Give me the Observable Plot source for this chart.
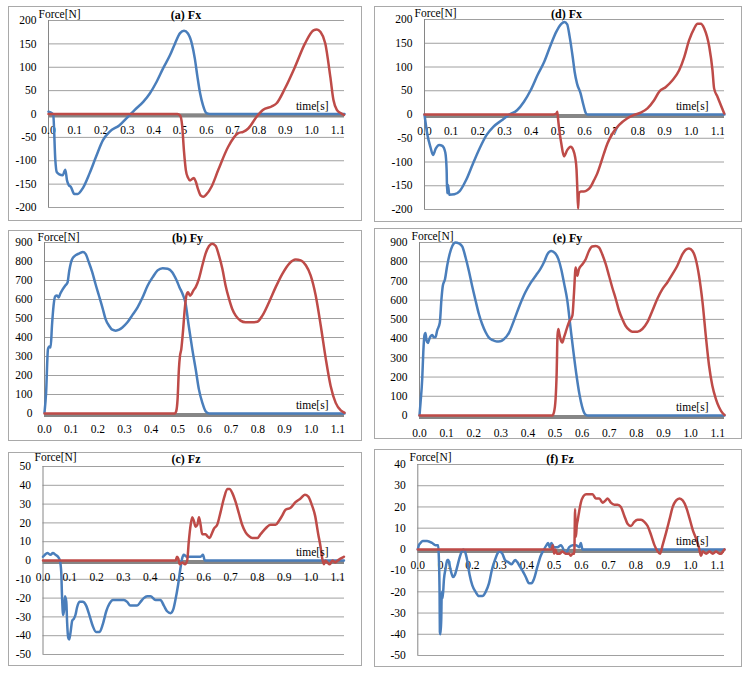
<!DOCTYPE html>
<html>
<head>
<meta charset="utf-8">
<script src="https://cdn.jsdelivr.net/npm/d3@7"></script>
<script src="https://cdn.jsdelivr.net/npm/@observablehq/plot@0.6"></script>
<style>
  html, body { margin: 0; padding: 0; background: #fff; }
  #page { position: relative; width: 750px; height: 675px; overflow: hidden; background: #fff; }
  .box { position: absolute; box-sizing: border-box; border: 1px solid #a9a9a9; }
  .plotwrap { position: absolute; }
  #page svg, #page svg text { font-family: "Liberation Serif", "Times New Roman", serif !important; }
</style>
</head>
<body>
<div id="page"></div>
<script>
// ---------- tick labels ----------
const xTicks = [0, 0.1, 0.2, 0.3, 0.4, 0.5, 0.6, 0.7, 0.8, 0.9, 1.0, 1.1];
const fxTicks = [-200, -150, -100, -50, 0, 50, 100, 150, 200];
const fyTicks = [0, 100, 200, 300, 400, 500, 600, 700, 800, 900];
const fzTicksC = [-50, -40, -30, -20, -10, 0, 10, 20, 30, 40, 50];
const fzTicksF = [-50, -40, -30, -20, -10, 0, 10, 20, 30, 40];

// ---------- series: [time (s), force (N)] ----------
const fxBlueA = [[0,5],[0.009,3],[0.018,-2],[0.026,-99],[0.031,-124],[0.041,-129],[0.054,-131],[0.064,-119],[0.07,-141],[0.077,-152],[0.085,-156],[0.098,-171],[0.111,-171],[0.13,-159],[0.156,-127],[0.181,-91],[0.207,-56],[0.232,-38],[0.27,-24],[0.302,-6],[0.328,9],[0.36,26],[0.385,44],[0.411,69],[0.436,98],[0.462,126],[0.481,151],[0.5,173],[0.515,178],[0.53,172],[0.545,150],[0.556,119],[0.566,80],[0.576,45],[0.587,19],[0.6,2],[0.613,0],[1.125,0]];
const fxRedA = [[0,0],[0.49,0],[0.5,-3],[0.508,-25],[0.515,-80],[0.522,-120],[0.53,-136],[0.538,-142],[0.546,-139],[0.553,-137],[0.56,-145],[0.568,-160],[0.578,-174],[0.588,-177],[0.6,-172],[0.62,-155],[0.645,-120],[0.683,-70],[0.721,-41],[0.74,-38],[0.759,-31],[0.791,-6],[0.816,9],[0.848,16],[0.867,23],[0.899,55],[0.937,101],[0.975,151],[1.007,179],[1.02,181],[1.033,176],[1.052,151],[1.071,80],[1.083,30],[1.096,9],[1.11,2],[1.123,-2]];

const fxBlueD = [[0,0],[0.01,-40],[0.023,-70],[0.032,-85],[0.042,-72],[0.055,-64],[0.067,-66],[0.078,-80],[0.083,-117],[0.085,-166],[0.088,-148],[0.093,-169],[0.112,-168],[0.131,-162],[0.156,-138],[0.182,-103],[0.207,-71],[0.233,-43],[0.258,-26],[0.29,-12],[0.316,-1],[0.347,9],[0.373,27],[0.398,51],[0.424,83],[0.449,111],[0.475,149],[0.494,174],[0.513,191],[0.525,195],[0.535,190],[0.544,165],[0.556,120],[0.563,90],[0.572,65],[0.585,45],[0.596,20],[0.605,3],[0.612,0],[1.125,0]];
const fxRedD = [[0,0],[0.484,0],[0.495,2],[0.498,6],[0.501,-10],[0.506,-35],[0.513,-61],[0.523,-88],[0.535,-75],[0.548,-68],[0.558,-75],[0.565,-90],[0.57,-115],[0.573,-155],[0.576,-198],[0.579,-166],[0.586,-162],[0.598,-162],[0.611,-159],[0.623,-152],[0.636,-138],[0.648,-124],[0.661,-103],[0.673,-82],[0.686,-61],[0.705,-40],[0.73,-22],[0.761,-8],[0.786,-1],[0.811,4],[0.836,13],[0.861,30],[0.88,48],[0.905,58],[0.93,72],[0.955,93],[0.974,121],[0.992,156],[1.011,181],[1.024,191],[1.036,191],[1.049,181],[1.068,142],[1.08,93],[1.086,55],[1.099,37],[1.111,20],[1.124,2]];

const fyBlueB = [[0,4],[0.006,109],[0.013,339],[0.018,353],[0.023,347],[0.028,462],[0.034,568],[0.04,616],[0.047,621],[0.053,610],[0.059,630],[0.068,653],[0.078,674],[0.086,688],[0.093,753],[0.103,811],[0.116,832],[0.131,843],[0.144,850],[0.154,840],[0.166,797],[0.179,744],[0.191,683],[0.204,621],[0.217,559],[0.229,497],[0.242,462],[0.254,441],[0.267,436],[0.28,441],[0.292,453],[0.311,480],[0.33,519],[0.349,559],[0.368,612],[0.387,674],[0.406,718],[0.424,753],[0.443,765],[0.462,762],[0.479,744],[0.494,705],[0.506,665],[0.519,625],[0.529,580],[0.54,470],[0.554,340],[0.567,233],[0.579,127],[0.592,56],[0.604,12],[0.617,0],[1.125,0]];
const fyRedB = [[0,0],[0.489,0],[0.494,12],[0.499,74],[0.504,233],[0.508,303],[0.513,339],[0.519,427],[0.526,550],[0.532,621],[0.538,638],[0.546,620],[0.552,630],[0.558,647],[0.567,665],[0.579,709],[0.592,780],[0.604,841],[0.617,882],[0.629,894],[0.642,882],[0.654,832],[0.667,762],[0.679,674],[0.692,603],[0.704,550],[0.717,515],[0.735,489],[0.754,480],[0.779,480],[0.798,483],[0.817,515],[0.842,586],[0.867,665],[0.892,735],[0.917,788],[0.942,810],[0.961,806],[0.98,780],[0.998,727],[1.017,621],[1.036,462],[1.055,286],[1.073,145],[1.092,56],[1.111,16],[1.125,4]];

const fyBlueE = [[0,0],[0.004,69],[0.01,190],[0.014,329],[0.018,415],[0.022,429],[0.026,389],[0.031,377],[0.034,389],[0.041,412],[0.047,419],[0.053,407],[0.059,407],[0.065,441],[0.075,484],[0.081,606],[0.086,675],[0.094,709],[0.102,779],[0.111,839],[0.121,882],[0.133,900],[0.145,896],[0.158,879],[0.17,822],[0.182,753],[0.194,675],[0.207,597],[0.219,528],[0.231,476],[0.244,433],[0.256,405],[0.27,392],[0.285,385],[0.298,386],[0.31,395],[0.33,430],[0.35,500],[0.37,575],[0.39,640],[0.41,690],[0.43,730],[0.445,760],[0.46,800],[0.472,840],[0.486,856],[0.5,845],[0.512,815],[0.523,760],[0.533,690],[0.545,600],[0.556,470],[0.567,340],[0.578,220],[0.59,110],[0.6,45],[0.61,8],[0.62,0],[1.125,0]];
const fyRedE = [[0,0],[0.49,0],[0.496,17],[0.502,87],[0.506,225],[0.509,415],[0.512,450],[0.516,424],[0.522,389],[0.527,380],[0.533,407],[0.539,433],[0.551,484],[0.564,520],[0.57,640],[0.576,770],[0.582,727],[0.588,761],[0.601,787],[0.613,813],[0.625,856],[0.637,879],[0.65,882],[0.662,874],[0.674,839],[0.687,787],[0.699,727],[0.711,666],[0.724,606],[0.736,545],[0.748,502],[0.76,467],[0.773,446],[0.785,436],[0.804,436],[0.822,450],[0.84,484],[0.859,545],[0.877,606],[0.896,657],[0.914,692],[0.933,735],[0.951,779],[0.97,839],[0.982,862],[0.994,869],[1.007,856],[1.019,813],[1.031,727],[1.044,588],[1.056,415],[1.068,260],[1.08,156],[1.093,87],[1.105,43],[1.117,14],[1.125,3]];

const fzBlueC = [[0,2],[0.007,3],[0.016,4],[0.028,3],[0.037,4],[0.047,3],[0.056,2],[0.063,0],[0.068,-6],[0.071,-19],[0.075,-29],[0.079,-26],[0.082,-19],[0.087,-22],[0.09,-33],[0.094,-41],[0.098,-42],[0.103,-38],[0.109,-32],[0.115,-31],[0.121,-29],[0.127,-25],[0.136,-22],[0.148,-22],[0.161,-24],[0.173,-29],[0.186,-35],[0.198,-38],[0.211,-38],[0.223,-34],[0.236,-27],[0.248,-23],[0.261,-21],[0.283,-21],[0.302,-21],[0.314,-22],[0.326,-24],[0.339,-24],[0.351,-24],[0.364,-22],[0.376,-20],[0.389,-19],[0.401,-19],[0.42,-21],[0.438,-21],[0.451,-24],[0.463,-27],[0.476,-28],[0.486,-26],[0.494,-21],[0.504,-13],[0.513,-4],[0.519,1],[0.525,3],[0.537,2],[0.551,2],[0.569,2],[0.588,2],[0.597,3],[0.604,0],[1.123,0]];
const fzRedC = [[0,0],[0.495,0],[0.5,2],[0.505,1],[0.51,-2],[0.52,-1],[0.53,-2],[0.538,0],[0.544,10],[0.551,19],[0.557,23],[0.563,21],[0.569,18],[0.576,19],[0.582,23],[0.588,19],[0.594,14],[0.6,14],[0.607,14],[0.613,13],[0.622,12],[0.629,14],[0.638,17],[0.65,19],[0.663,26],[0.675,33],[0.688,38],[0.696,38],[0.706,36],[0.719,31],[0.731,25],[0.743,19],[0.756,15],[0.768,13],[0.781,12],[0.8,12],[0.812,14],[0.824,16],[0.837,18],[0.849,19],[0.868,19],[0.88,21],[0.893,24],[0.905,27],[0.924,28],[0.942,31],[0.961,33],[0.977,35],[0.99,34],[1.002,30],[1.015,24],[1.027,14],[1.036,7],[1.042,1],[1.048,-2],[1.054,0],[1.061,-1],[1.07,-2],[1.08,0],[1.09,-1],[1.1,0],[1.11,1],[1.123,2]];

const fzBlueF = [[0,0],[0.004,2],[0.01,3],[0.018,4],[0.034,4],[0.053,3],[0.065,2],[0.075,2],[0.077,-3],[0.08,-22],[0.081,-39],[0.083,-40],[0.086,-33],[0.088,-20],[0.091,-23],[0.096,-14],[0.102,-9],[0.108,-5],[0.112,-5],[0.116,-7],[0.123,-11],[0.129,-13],[0.136,-12],[0.145,-8],[0.153,-4],[0.161,-1],[0.167,0],[0.173,-1],[0.181,-5],[0.19,-12],[0.2,-17],[0.212,-20],[0.224,-22],[0.237,-22],[0.249,-20],[0.261,-16],[0.273,-9],[0.283,-5],[0.292,-2],[0.3,-1],[0.31,-2],[0.32,-5],[0.332,-6],[0.344,-7],[0.357,-5],[0.365,-6],[0.374,-8],[0.384,-10],[0.396,-13],[0.408,-16],[0.417,-16],[0.426,-14],[0.439,-8],[0.451,-3],[0.463,0],[0.472,2],[0.478,3],[0.484,1],[0.49,3],[0.5,1],[0.512,1],[0.525,2],[0.543,-2],[0.555,1],[0.568,2],[0.58,2],[0.592,1],[0.598,3],[0.604,0],[1.125,0]];
const fzRedF = [[0,0],[0.49,0],[0.495,2],[0.5,-2],[0.505,0],[0.51,-2],[0.52,-2],[0.53,-1],[0.543,-2],[0.555,-2],[0.561,-3],[0.568,-2],[0.574,-2],[0.577,19],[0.58,6],[0.583,11],[0.587,14],[0.592,18],[0.598,22],[0.607,25],[0.617,26],[0.629,26],[0.641,26],[0.653,24],[0.666,24],[0.678,22],[0.688,23],[0.696,24],[0.708,22],[0.721,21],[0.733,21],[0.745,20],[0.757,16],[0.77,12],[0.782,11],[0.794,13],[0.806,14],[0.819,14],[0.831,13],[0.843,11],[0.855,7],[0.868,2],[0.88,-1],[0.889,-2],[0.898,2],[0.911,8],[0.923,14],[0.935,20],[0.947,23],[0.96,24],[0.972,23],[0.984,20],[0.996,15],[1.009,9],[1.021,5],[1.031,1],[1.039,-3],[1.045,-1],[1.058,-2],[1.07,-1],[1.082,-2],[1.094,-1],[1.107,-2],[1.113,-2],[1.119,-1],[1.125,0]];

const titles = ["(a) Fx", "(b) Fy", "(c) Fz", "(d) Fx", "(e) Fy", "(f) Fz"];

// ---------- styles ----------
const BLUE = "#4a7ebb";
const RED = "#be4b48";
const GRID = "#a0a0a0";
const AXIS = "#868686";
const FONT = "'Liberation Serif', 'Times New Roman', serif";
const XMAX = 1.125;

const panels = [
  {title: titles[0], L: 8,   T: 6,   W: 354, H: 215, ml: 40,   mr: 18, mt: 14, mb: 14, y: [-200, 200], ticks: fxTicks,  blue: fxBlueA, red: fxRedA, tx: 185.5, ty: 14.5, fx: 38,  fy: 13.7, xdy: 16.5},
  {title: titles[3], L: 374, T: 6,   W: 368, H: 216, ml: 50,   mr: 18, mt: 13, mb: 13, y: [-200, 200], ticks: fxTicks,  blue: fxBlueD, red: fxRedD, tx: 566,   ty: 14,   fx: 414, fy: 12.7, xdy: 17},
  {title: titles[1], L: 8,   T: 230, W: 354, H: 211, ml: 36,   mr: 18, mt: 12, mb: 28, y: [0, 900],    ticks: fyTicks,  blue: fyBlueB, red: fyRedB, tx: 187,   ty: 237.5, fx: 37, fy: 237,  xdy: 15.5},
  {title: titles[4], L: 374, T: 228, W: 368, H: 211, ml: 45,   mr: 18, mt: 14, mb: 24, y: [0, 900],    ticks: fyTicks,  blue: fyBlueE, red: fyRedE, tx: 567,   ty: 237.5, fx: 411, fy: 236, xdy: 18},
  {title: titles[2], L: 8,   T: 452, W: 354, H: 214, ml: 34.5, mr: 18, mt: 14, mb: 12, y: [-50, 50],   ticks: fzTicksC, blue: fzBlueC, red: fzRedC, tx: 185.5, ty: 458.5, fx: 34, fy: 457,  xdy: 17},
  {title: titles[5], L: 374, T: 449, W: 368, H: 218, ml: 43.3, mr: 18, mt: 15, mb: 12, y: [-50, 40],   ticks: fzTicksF, blue: fzBlueF, red: fzRedF, tx: 559.5, ty: 458.5, fx: 409, fy: 457, xdy: 16}
];

const page = document.getElementById("page");

for (const p of panels) {
  const box = document.createElement("div");
  box.className = "box";
  Object.assign(box.style, {left: p.L + "px", top: p.T + "px", width: p.W + "px", height: p.H + "px"});
  page.appendChild(box);

  const frameLeft = p.L + p.ml;
  const frameTop = p.T + p.mt;

  const chart = Plot.plot({
    width: p.W,
    height: p.H,
    marginLeft: p.ml,
    marginRight: p.mr,
    marginTop: p.mt,
    marginBottom: p.mb,
    x: {domain: [0, XMAX], axis: null},
    y: {domain: p.y, axis: null},
    style: {fontFamily: FONT, fontSize: "11.5px", color: "#000", background: "transparent", overflow: "visible"},
    marks: [
      Plot.gridY(p.ticks, {stroke: GRID, strokeOpacity: 1, strokeWidth: 1}),
      Plot.ruleX([0], {stroke: AXIS, strokeWidth: 1}),
      Plot.axisY(p.ticks, {tickSize: 0, tickPadding: 12, tickFormat: d => String(d), fontSize: 11.5}),
      Plot.text(xTicks, {x: d => d, y: 0, text: d => d.toFixed(1), dy: p.xdy, lineAnchor: "middle", fontSize: 11.5}),
      Plot.ruleY([0], {stroke: AXIS, strokeWidth: 4, dy: 1.5}),
      Plot.line(p.blue, {x: d => d[0], y: d => d[1], stroke: BLUE, strokeWidth: 2.5, curve: "monotone-x"}),
      Plot.line(p.red, {x: d => d[0], y: d => d[1], stroke: RED, strokeWidth: 2.5, curve: "monotone-x"}),
      Plot.text(["time[s]"], {x: XMAX, y: 0, dx: -16, dy: -8, textAnchor: "end", lineAnchor: "middle", fontSize: 11.5}),
      Plot.text(["Force[N]"], {frameAnchor: "top-left", dx: p.fx - frameLeft, dy: p.fy - frameTop, textAnchor: "start", lineAnchor: "middle", fontSize: 11.5}),
      Plot.text([p.title], {frameAnchor: "top-left", dx: p.tx - frameLeft, dy: p.ty - frameTop, textAnchor: "middle", lineAnchor: "middle", fontWeight: "bold", fontSize: 12})
    ]
  });

  const wrap = document.createElement("div");
  wrap.className = "plotwrap";
  Object.assign(wrap.style, {left: p.L + "px", top: p.T + "px", width: p.W + "px", height: p.H + "px"});
  wrap.appendChild(chart);
  page.appendChild(wrap);
}
</script>
</body>
</html>
